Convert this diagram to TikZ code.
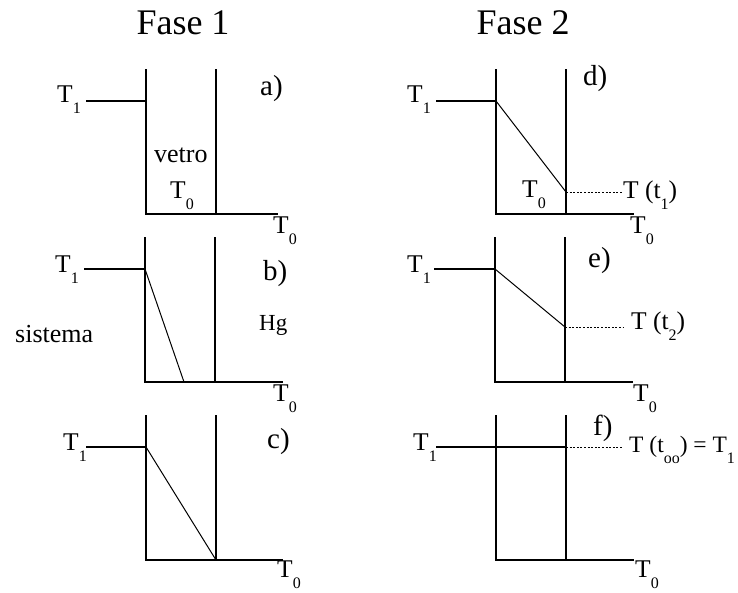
\documentclass[tikz,border=0pt]{standalone}
\usepackage{fontspec}
\setmainfont{Liberation Serif}
\newcommand\lowsub[1]{\raisebox{-11pt}{\fontsize{16}{16}\selectfont #1}}
\begin{document}
\begin{tikzpicture}[x=1pt,y=-1pt,
  ax/.style={line width=1.3pt},
  slant/.style={line width=1pt},
  dots/.style={line width=0.9pt, dash pattern=on 2pt off 1.6pt},
  lbl/.style={inner sep=0pt, anchor=base west, font=\fontsize{25.5}{25.5}\selectfont},
  ttl/.style={inner sep=0pt, anchor=base, font=\fontsize{36}{36}\selectfont},
  tag/.style={inner sep=0pt, anchor=base west, font=\fontsize{29}{29}\selectfont}]
\useasboundingbox (0,0) rectangle (738,592);

% titles
\node[ttl] (f1) at (183,34) {Fase 1};
\node[ttl] (f2) at (523,34) {Fase 2};

% ---------- panel a
\draw[ax] (146,69) -- (146,214) -- (278,214);
\draw[ax] (216,69) -- (216,214);
\draw[ax] (86,101) -- (146,101);
\node[lbl] (a1) at (57,102) {T\lowsub{1}};
\node[tag] (atag) at (260,95) {a)};
\node[lbl, font=\fontsize{26}{26}\selectfont] (vetro) at (154,162) {vetro};
\node[lbl] (a0) at (170,198) {T\lowsub{0}};
\node[lbl] (a0b) at (273,233) {T\lowsub{0}};

% ---------- panel b
\draw[ax] (145,237) -- (145,382) -- (283,382);
\draw[ax] (215,237) -- (215,382);
\draw[ax] (84,269) -- (145,269);
\draw[slant] (145,269) -- (184,382);
\node[lbl] (b1) at (55,272) {T\lowsub{1}};
\node[tag] (btag) at (263,280) {b)};
\node[lbl, font=\fontsize{23}{23}\selectfont] (hg) at (259,330) {Hg};
\node[lbl, font=\fontsize{26}{26}\selectfont] (sis) at (15,342) {sistema};
\node[lbl] (b0b) at (273,401) {T\lowsub{0}};

% ---------- panel c
\draw[ax] (146,415) -- (146,560) -- (283,560);
\draw[ax] (216,415) -- (216,560);
\draw[ax] (86,447) -- (146,447);
\draw[slant] (146,447) -- (216,560);
\node[lbl] (c1) at (63,450) {T\lowsub{1}};
\node[tag] (ctag) at (267,448) {c)};
\node[lbl] (c0b) at (277,577) {T\lowsub{0}};

% ---------- panel d
\draw[ax] (496,69) -- (496,214) -- (634,214);
\draw[ax] (566,69) -- (566,214);
\draw[ax] (436,101) -- (496,101);
\draw[slant] (496,101) -- (566,192);
\draw[dots] (566,192) -- (623,192);
\node[lbl] (d1) at (407,102) {T\lowsub{1}};
\node[tag] (dtag) at (583,85) {d)};
\node[lbl] (d0) at (522,197) {T\lowsub{0}};
\node[lbl] (dt) at (623,198) {T (t\lowsub{1})};
\node[lbl] (d0b) at (630,233) {T\lowsub{0}};

% ---------- panel e
\draw[ax] (495,237) -- (495,382) -- (633,382);
\draw[ax] (565,237) -- (565,382);
\draw[ax] (434,269) -- (495,269);
\draw[slant] (495,269) -- (565,327);
\draw[dots] (565,327) -- (623,327);
\node[lbl] (e1) at (407,272) {T\lowsub{1}};
\node[tag] (etag) at (588,267) {e)};
\node[lbl] (et) at (631,329) {T (t\lowsub{2})};
\node[lbl] (e0b) at (633,401) {T\lowsub{0}};

% ---------- panel f
\draw[ax] (496,415) -- (496,560) -- (634,560);
\draw[ax] (566,415) -- (566,560);
\draw[ax] (436,447) -- (566,447);
\draw[dots] (566,447) -- (623,447);
\node[lbl] (f1l) at (413,450) {T\lowsub{1}};
\node[tag] (ftag) at (593,435) {f)};
\node[lbl, font=\fontsize{23.5}{23.5}\selectfont] (ft) at (629,452) {T (t\lowsub{oo}) = T\lowsub{1}};
\node[lbl] (f0b) at (635,577) {T\lowsub{0}};
\end{tikzpicture}
\end{document}
